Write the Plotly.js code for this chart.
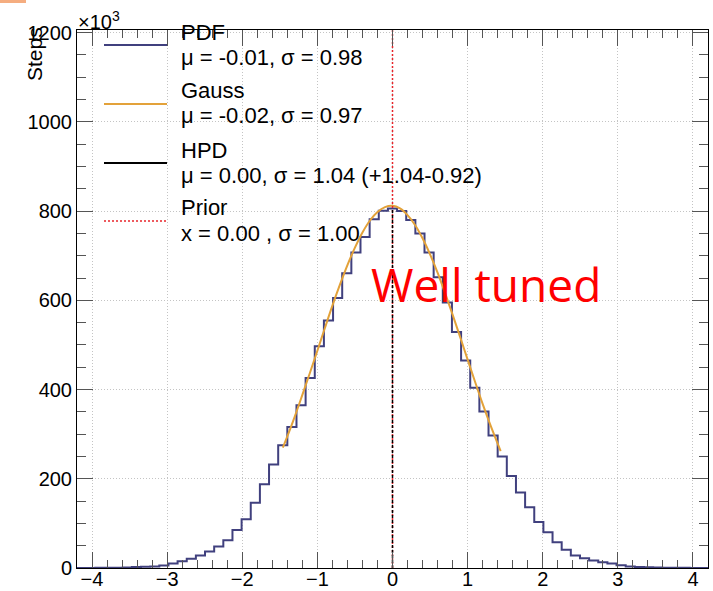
<!DOCTYPE html>
<html><head><meta charset="utf-8">
<script src="https://cdn.plot.ly/plotly-3.0.1.min.js"></script>
<style>html,body{margin:0;padding:0;background:#fff}</style>
</head><body><div id="chart" style="width:713px;height:591px"></div>
<script>
// ---- data (values in units of 10^3 steps) ----
const binMin = -4.2;
const binMax = 4.2;
const pdfSteps = [
  0.1, 0.2, 0.3, 0.5, 0.8, 1.3, 2.0, 2.6, 3.6, 5.4,
  10, 15, 21, 28, 37, 48, 62, 85, 109, 146,
  188, 232, 275, 316, 365, 426, 497, 555, 605, 661,
  707, 742, 782, 801, 806, 800, 780, 750, 707, 652,
  595, 529, 465, 404, 351, 297, 250, 206, 169, 136,
  103, 80, 58, 41, 28, 22, 17, 13, 10, 6,
  3.5, 2.2, 1.5, 1.0, 0.7, 0.5, 0.3, 0.2, 0.1
];
const gaussX = [-1.46, -1.4, -1.3, -1.2, -1.1, -1.0, -0.9, -0.8, -0.7, -0.6, -0.5, -0.4, -0.3, -0.2, -0.1,
                0.0, 0.1, 0.2, 0.3, 0.4, 0.5, 0.6, 0.7, 0.8, 0.9, 1.0, 1.1, 1.2, 1.3, 1.44];
const gaussY = [270, 295, 340, 388, 437, 487, 538, 588, 635, 679, 718, 752, 779, 798, 809,
                812, 806, 791, 769, 739, 703, 662, 616, 568, 518, 467, 417, 368, 322, 262];
const hpdX = [0, 0];
const hpdY = [0, 806];
const priorX = [0, 0];
const priorY = [0, 1206];
const xTickVals = [-4, -3, -2, -1, 0, 1, 2, 3, 4];
const yTickVals = [0, 200, 400, 600, 800, 1000, 1200];
const yTickText = ['0', '200', '400', '600', '800', '1000', '1200'];
const legendNames = ['PDF', 'Gauss', 'HPD', 'Prior'];
const legendStats = ['\u03bc = -0.01, \u03c3 = 0.98', '\u03bc = -0.02, \u03c3 = 0.97',
                     '\u03bc = 0.00, \u03c3 = 1.04 (+1.04-0.92)', 'x = 0.00 , \u03c3 = 1.00'];

// ---- build ----
const nb = pdfSteps.length;
const w = (binMax - binMin) / nb;
const hx = [], hy = [];
for (let i = 0; i < nb; i++) { hx.push(binMin + i * w); hy.push(pdfSteps[i]); }
hx.push(binMax); hy.push(pdfSteps[nb - 1]);

const cBlue = '#40407e', cOrange = '#e3a23a', cRed = '#e8242a';
const traces = [
  {x: hx, y: hy, type: 'scatter', mode: 'lines', line: {shape: 'hv', color: cBlue, width: 2}, hoverinfo: 'skip'},
  {x: gaussX, y: gaussY, type: 'scatter', mode: 'lines', line: {shape: 'spline', color: cOrange, width: 2}},
  {x: priorX, y: priorY, type: 'scatter', mode: 'lines', line: {color: cRed, width: 1.5, dash: '2px,2px'}},
  {x: hpdX, y: hpdY, type: 'scatter', mode: 'lines', line: {color: '#000', width: 1.5, dash: '3px,2px'}}
];

// plot area in px: left 77, right 708, top 30, bottom 568
const L = 77, R = 708, T = 30, B = 568;
const px = v => (v - L) / (R - L);
const py = v => (B - v) / (B - T);

const legLineY = [45, 104, 163, 221];
const legColors = [cBlue, cOrange, '#000', cRed];
const legDash = ['solid', 'solid', 'solid', '2px,2px'];
const nameY = [32, 91, 150, 208];
const statY = [57, 116, 175, 233];

const shapes = [];
const annotations = [];
for (let i = 0; i < 4; i++) {
  shapes.push({type: 'line', xref: 'paper', yref: 'paper', x0: px(104), x1: px(167), y0: py(legLineY[i]), y1: py(legLineY[i]),
               line: {color: legColors[i], width: i === 3 ? 1.5 : 2, dash: legDash[i]}});
  annotations.push({xref: 'paper', yref: 'paper', x: px(179), y: py(nameY[i]), xanchor: 'left', yanchor: 'middle',
                    text: legendNames[i], showarrow: false, font: {size: 22, color: '#000'}});
  annotations.push({xref: 'paper', yref: 'paper', x: px(179), y: py(statY[i]), xanchor: 'left', yanchor: 'middle',
                    text: legendStats[i], showarrow: false, font: {size: 22, color: '#000'}});
}
// orange mark at top-left corner
shapes.push({type: 'rect', xref: 'paper', yref: 'paper', x0: px(0), x1: px(26), y0: py(3), y1: py(0),
             fillcolor: '#f5ad80', line: {width: 0}});

annotations.push({xref: 'paper', yref: 'paper', x: px(76), y: py(20), xanchor: 'left', yanchor: 'middle',
                  text: '\u00d710<sup>3</sup>', showarrow: false, font: {size: 20, color: '#000'}});
annotations.push({xref: 'paper', yref: 'paper', x: px(34), y: py(54), xanchor: 'center', yanchor: 'middle',
                  text: 'Steps', textangle: -90, showarrow: false, font: {size: 21, color: '#000'}});
annotations.push({xref: 'paper', yref: 'paper', x: px(486), y: py(284), xanchor: 'center', yanchor: 'middle',
                  text: 'Well tuned', showarrow: false, font: {size: 46, color: '#ff0000', family: 'Open Sans'}});

const layout = {
  width: 713, height: 591,
  margin: {l: L, r: 713 - R, t: T, b: 591 - B, pad: 0},
  paper_bgcolor: '#fff', plot_bgcolor: '#fff',
  showlegend: false,
  font: {family: 'Liberation Sans, Arial, sans-serif', size: 20, color: '#000'},
  xaxis: {
    range: [binMin, binMax], tickvals: xTickVals, ticks: 'inside', ticklen: 16, tickcolor: '#555', tickwidth: 1,
    showline: true, linecolor: '#000', linewidth: 1, mirror: 'ticks', zeroline: false,
    showgrid: true, gridcolor: '#c4c4c4', griddash: '1px,2px', gridwidth: 1,
    tickfont: {size: 20}, ticklabelstandoff: -7,
    minor: {dtick: 0.2, tick0: 0, ticks: 'inside', ticklen: 8, tickcolor: '#555', showgrid: false}
  },
  yaxis: {
    range: [0, 1206], tickvals: yTickVals, ticktext: yTickText, ticks: 'inside', ticklen: 16, tickcolor: '#555', tickwidth: 1,
    showline: true, linecolor: '#000', linewidth: 1, mirror: 'ticks', zeroline: false,
    showgrid: true, gridcolor: '#c4c4c4', griddash: '1px,2px', gridwidth: 1,
    tickfont: {size: 20},
    minor: {dtick: 50, tick0: 0, ticks: 'inside', ticklen: 9, tickcolor: '#555', showgrid: false}
  },
  shapes: shapes,
  annotations: annotations
};
Plotly.newPlot('chart', traces, layout, {staticPlot: true, displayModeBar: false});
</script></body></html>
